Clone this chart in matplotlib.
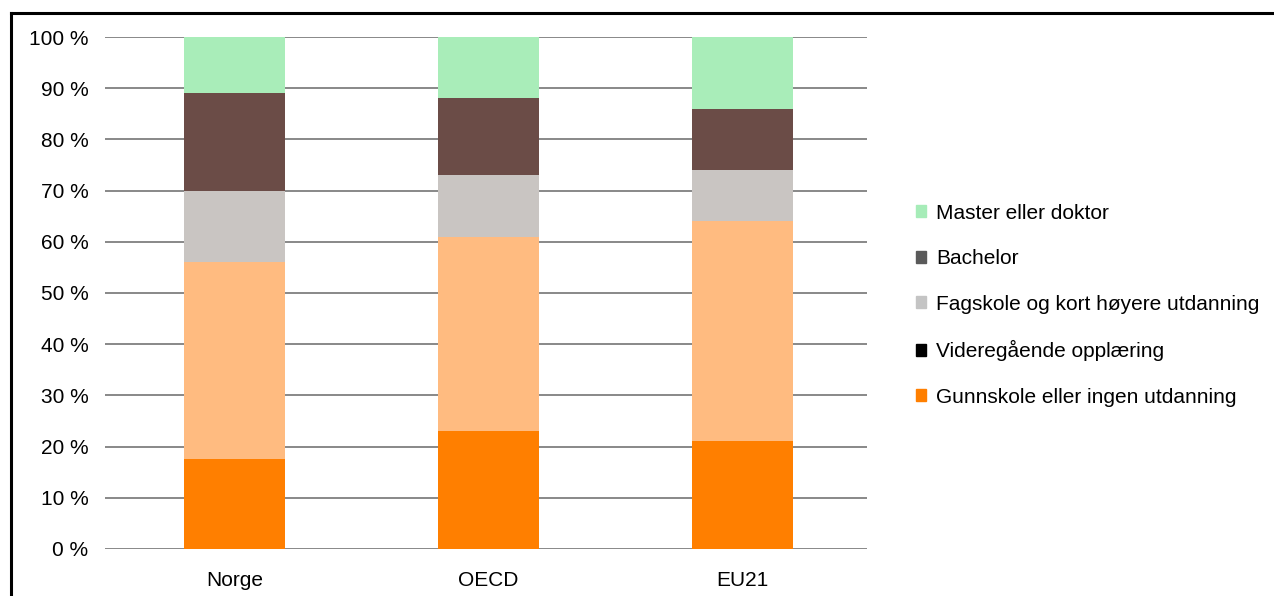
import numpy as np
import matplotlib
matplotlib.use("Agg")
import matplotlib.pyplot as plt
from matplotlib.patches import Patch
from matplotlib.lines import Line2D

plt.rcParams["font.family"] = ["Liberation Sans", "DejaVu Sans"]

groups = ["Norge", "OECD", "EU21"]
levels = ["Gunnskole eller ingen utdanning", "Videregående opplæring",
          "Fagskole og kort høyere utdanning", "Bachelor", "Master eller doktor"]
# cumulative share (%) at the top of each segment, bottom -> top
tops = {
    "Norge": [17.5, 56, 70, 89, 100],
    "OECD":  [23, 61, 73, 88, 100],
    "EU21":  [21, 64, 74, 86, 100],
}
bar_colors = ["#ff7f00", "#ffbb80", "#c9c5c2", "#6b4c47", "#a9edb9"]
legend_colors = ["#ff7f00", "#000000", "#c4c4c4", "#5a5a5a", "#a6ecb8"]

fig = plt.figure(figsize=(12.74, 5.96), dpi=100)
ax = fig.add_axes([0.0824, 0.0789, 0.598, 0.859])

x = np.arange(len(groups))
for i, g in enumerate(groups):
    prev = 0
    for k, t in enumerate(tops[g]):
        ax.bar(x[i], t - prev, bottom=prev, width=0.40, color=bar_colors[k], zorder=3)
        prev = t

ax.set_xlim(-0.51, 2.49)
ax.set_ylim(0, 100)
ax.set_yticks(np.arange(0, 101, 10))
ax.set_yticklabels([f"{v} %" for v in range(0, 101, 10)])
ax.set_xticks(x)
ax.set_xticklabels(groups)
ax.yaxis.grid(True, color="#7f7f7f", lw=1.3, zorder=1)
ax.tick_params(length=0, labelsize=15, colors="black")
ax.tick_params(axis="y", pad=12)
ax.tick_params(axis="x", pad=16)
for s in ax.spines.values():
    s.set_visible(False)

handles = [Patch(color=legend_colors[k], label=levels[k]) for k in range(len(levels))][::-1]
fig.legend(handles=handles, loc="center left", bbox_to_anchor=(0.704, 0.488),
           frameon=False, fontsize=15, handlelength=0.5, handleheight=0.5,
           handletextpad=0.5, labelspacing=1.27)

# frame lines along the top and left of the figure
fig.add_artist(Line2D([0.0086, 1.0], [0.978, 0.978], color="black", lw=2.2, transform=fig.transFigure))
fig.add_artist(Line2D([0.0086, 0.0086], [0.0, 0.978], color="black", lw=2.2, transform=fig.transFigure))

fig.savefig("out.png", dpi=100)
